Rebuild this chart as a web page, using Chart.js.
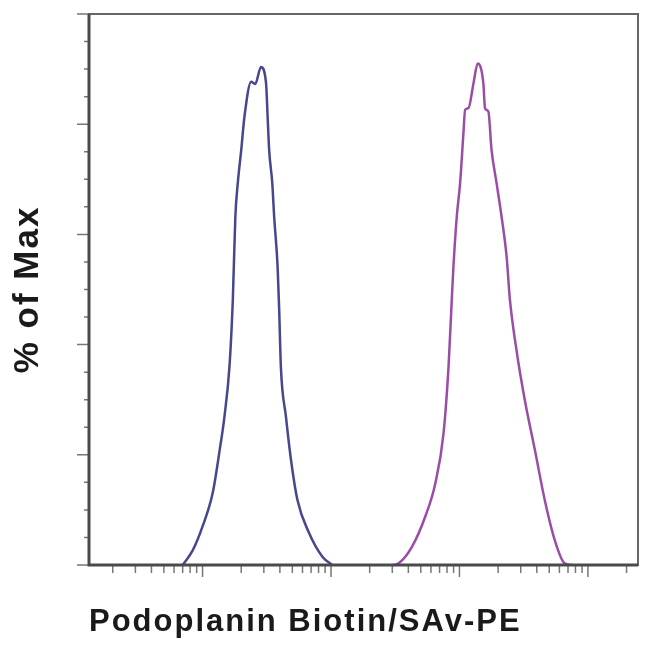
<!DOCTYPE html>
<html>
<head>
<meta charset="utf-8">
<script src="https://cdn.jsdelivr.net/npm/chart.js@4.4.0/dist/chart.umd.min.js"></script>
<style>
  html, body { margin: 0; padding: 0; background: #fff; }
</style>
</head>
<body>
<canvas id="histChart" width="650" height="650"></canvas>
<script>
// Unstained / control peak (blue), fluorescence intensity vs % of max
const controlX = [70, 84, 100, 120, 136, 148, 162, 172, 180, 188, 200, 212, 239, 257, 285, 312, 321, 330, 349, 361, 384, 395, 407, 446, 488, 548, 675, 857, 1023];
const controlY = [0, 2.7, 7.0, 13.1, 20.9, 26.9, 36.0, 48.1, 63.2, 69.3, 75.3, 81.4, 87.7, 87.3, 90.4, 87.5, 81.4, 75.3, 69.3, 63.2, 54.1, 46.3, 36.0, 26.9, 19.1, 11.8, 5.8, 1.5, 0];

// Podoplanin stained peak (magenta)
const stainedX = [3076, 3365, 4266, 5420, 6486, 7516, 8222, 8710, 8974, 9528, 10116, 10740, 11066, 11749, 12853, 13868, 15346, 15812, 16788, 17783, 19454, 21281, 23281, 24717, 27797, 32285, 38637, 46132, 55208, 65917, 76560];
const stainedY = [0, 0.3, 3.3, 8.8, 14.8, 23.9, 36.0, 48.1, 54.1, 63.2, 69.3, 78.4, 82.6, 82.9, 87.4, 91.0, 87.4, 82.9, 82.3, 75.3, 69.3, 63.2, 56.0, 48.1, 39.0, 29.9, 20.9, 11.8, 4.5, 0.3, 0];

// Axis tick positions (no labels are printed on the original)
const xMajorTicks = [100, 1000, 10000, 100000];
const xMinorTicks = [20, 30, 40, 50, 60, 70, 80, 90,
                     200, 300, 400, 500, 600, 700, 800, 900,
                     2000, 3000, 4000, 5000, 6000, 7000, 8000, 9000,
                     20000, 30000, 40000, 50000, 60000, 70000, 80000, 90000,
                     200000];
const yMajorTicks = [0, 20, 40, 60, 80, 100];
const yMinorTicks = [5, 10, 15, 25, 30, 35, 45, 50, 55, 65, 70, 75, 85, 90, 95];

const colors = {
    control: '#46478f',
    stained: '#9b4ca8',
    frame: '#4a4a4a',
    tick: '#777777',
    text: '#1a1a1a'
};

function toPoints(xs, ys) {
    return xs.map(function(v, i) { return { x: v, y: ys[i] }; });
}

// frame + tick marks drawn from the chart scales
const frameTicks = {
    id: 'frameTicks',
    beforeDraw: function(chart) {
        chart.ctx.letterSpacing = '2px';
    },
    afterDraw: function(chart) {
        const ctx = chart.ctx;
        const area = chart.chartArea;
        const xs = chart.scales.x;
        const ys = chart.scales.y;

        ctx.save();
        ctx.letterSpacing = '0px';
        ctx.strokeStyle = colors.tick;
        ctx.lineWidth = 1.5;
        ctx.beginPath();
        xMajorTicks.forEach(function(v) {
            const px = xs.getPixelForValue(v);
            ctx.moveTo(px, area.bottom);
            ctx.lineTo(px, area.bottom + 12);
        });
        xMinorTicks.forEach(function(v) {
            const px = xs.getPixelForValue(v);
            ctx.moveTo(px, area.bottom);
            ctx.lineTo(px, area.bottom + 8);
        });
        yMajorTicks.forEach(function(v) {
            const py = ys.getPixelForValue(v);
            ctx.moveTo(area.left, py);
            ctx.lineTo(area.left - 12, py);
        });
        yMinorTicks.forEach(function(v) {
            const py = ys.getPixelForValue(v);
            ctx.moveTo(area.left, py);
            ctx.lineTo(area.left - 5, py);
        });
        ctx.stroke();

        ctx.strokeStyle = '#666666';
        ctx.lineWidth = 2;
        ctx.strokeRect(area.left, area.top, area.right - area.left, area.bottom - area.top);

        ctx.strokeStyle = colors.frame;
        ctx.lineWidth = 3;
        ctx.beginPath();
        ctx.moveTo(area.left, area.top);
        ctx.lineTo(area.left, area.bottom);
        ctx.lineTo(area.right, area.bottom);
        ctx.stroke();
        ctx.restore();
        ctx.letterSpacing = '0px';
    }
};

new Chart(document.getElementById('histChart').getContext('2d'), {
    type: 'scatter',
    data: {
        datasets: [{
            label: 'Control',
            data: toPoints(controlX, controlY),
            showLine: true,
            borderColor: colors.control,
            borderWidth: 2.5,
            pointRadius: 0,
            cubicInterpolationMode: 'monotone'
        }, {
            label: 'Podoplanin Biotin/SAv-PE',
            data: toPoints(stainedX, stainedY),
            showLine: true,
            borderColor: colors.stained,
            borderWidth: 2.5,
            pointRadius: 0,
            cubicInterpolationMode: 'monotone'
        }]
    },
    options: {
        responsive: false,
        animation: false,
        layout: {
            padding: { top: 14, right: 12, left: 0, bottom: 0 }
        },
        plugins: {
            legend: { display: false },
            tooltip: { enabled: false }
        },
        scales: {
            x: {
                type: 'logarithmic',
                min: 13.06,
                max: 245470,
                grid: { display: false },
                border: { display: false },
                ticks: { display: false },
                afterFit: function(scale) { scale.height = 85; },
                title: {
                    display: true,
                    text: 'Podoplanin Biotin/SAv-PE',
                    align: 'start',
                    color: colors.text,
                    font: { family: "'Liberation Sans', Arial, sans-serif", size: 31, weight: 'bold' },
                    padding: { top: 0, bottom: 9 }
                }
            },
            y: {
                min: 0,
                max: 100,
                grid: { display: false },
                border: { display: false },
                ticks: { display: false },
                afterFit: function(scale) { scale.width = 89; },
                title: {
                    display: true,
                    text: '% of Max',
                    color: colors.text,
                    font: { family: "'Liberation Sans', Arial, sans-serif", size: 35, weight: 'bold' },
                    padding: { top: 7, bottom: 0 }
                }
            }
        }
    },
    plugins: [frameTicks]
});
</script>
</body>
</html>
